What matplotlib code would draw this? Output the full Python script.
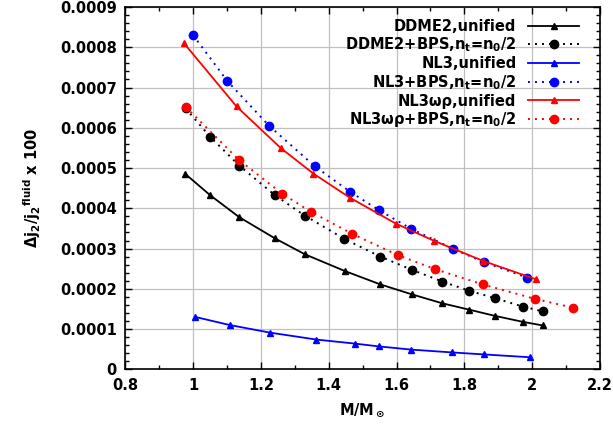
import matplotlib
matplotlib.use("Agg")
import matplotlib.pyplot as plt
from matplotlib.ticker import MultipleLocator, FuncFormatter

# masses (M/Msun) and delta j2 / j2_fluid x 100
ddme2_uni_m = [0.976, 1.051, 1.136, 1.242, 1.329, 1.448, 1.552, 1.646, 1.735, 1.815, 1.889, 1.972, 2.031]
ddme2_uni_d = [4.86e-4, 4.32e-4, 3.78e-4, 3.25e-4, 2.86e-4, 2.44e-4, 2.11e-4, 1.86e-4, 1.64e-4, 1.48e-4, 1.33e-4, 1.18e-4, 1.09e-4]

ddme2_bps_m = [0.978, 1.051, 1.136, 1.242, 1.329, 1.446, 1.552, 1.646, 1.735, 1.815, 1.889, 1.972, 2.031]
ddme2_bps_d = [6.48e-4, 5.77e-4, 5.06e-4, 4.32e-4, 3.82e-4, 3.24e-4, 2.80e-4, 2.47e-4, 2.18e-4, 1.95e-4, 1.77e-4, 1.56e-4, 1.44e-4]

nl3_uni_m = [1.007, 1.108, 1.228, 1.363, 1.476, 1.547, 1.643, 1.763, 1.858, 1.993]
nl3_uni_d = [1.30e-4, 1.10e-4, 0.91e-4, 0.74e-4, 0.64e-4, 0.57e-4, 0.49e-4, 0.42e-4, 0.37e-4, 0.30e-4]

nl3_bps_m = [1.000, 1.101, 1.224, 1.358, 1.463, 1.547, 1.643, 1.765, 1.858, 1.985]
nl3_bps_d = [8.30e-4, 7.16e-4, 6.05e-4, 5.05e-4, 4.41e-4, 3.96e-4, 3.49e-4, 3.00e-4, 2.66e-4, 2.28e-4]

nl3wr_uni_m = [0.973, 1.128, 1.258, 1.355, 1.463, 1.598, 1.711, 1.856, 2.010]
nl3wr_uni_d = [8.10e-4, 6.53e-4, 5.50e-4, 4.86e-4, 4.26e-4, 3.62e-4, 3.19e-4, 2.69e-4, 2.24e-4]

nl3wr_bps_m = [0.978, 1.134, 1.263, 1.348, 1.468, 1.603, 1.713, 1.854, 2.008, 2.121]
nl3wr_bps_d = [6.52e-4, 5.21e-4, 4.36e-4, 3.91e-4, 3.37e-4, 2.84e-4, 2.49e-4, 2.11e-4, 1.75e-4, 1.53e-4]

labels = ["DDME2,unified", "DDME2+BPS,n$_t$=n$_0$/2",
          "NL3,unified", "NL3+BPS,n$_t$=n$_0$/2",
          "NL3ωρ,unified", "NL3ωρ+BPS,n$_t$=n$_0$/2"]

plt.rcParams['font.family'] = ['DejaVu Sans']
plt.rcParams['font.weight'] = 'bold'
plt.rcParams['axes.labelweight'] = 'bold'
plt.rcParams['mathtext.default'] = 'bf'
plt.rcParams['font.size'] = 10.5

fig = plt.figure(figsize=(6.13, 4.25), dpi=100)
ax = fig.add_axes([0.2044, 0.131, 0.7744, 0.8525])

dot = (0, (1, 2.6))
ax.plot(ddme2_uni_m, ddme2_uni_d, color='black', lw=1.3, marker='^', ms=5, label=labels[0])
ax.plot(ddme2_bps_m, ddme2_bps_d, color='black', lw=1.4, ls=dot, marker='o', ms=6, label=labels[1])
ax.plot(nl3_uni_m, nl3_uni_d, color='blue', lw=1.3, marker='^', ms=5, label=labels[2])
ax.plot(nl3_bps_m, nl3_bps_d, color='blue', lw=1.4, ls=dot, marker='o', ms=6, label=labels[3])
ax.plot(nl3wr_uni_m, nl3wr_uni_d, color='red', lw=1.3, marker='^', ms=5, label=labels[4])
ax.plot(nl3wr_bps_m, nl3wr_bps_d, color='red', lw=1.4, ls=dot, marker='o', ms=6, label=labels[5])

ax.set_xlim(0.8, 2.2)
ax.set_ylim(0, 0.0009)
ax.xaxis.set_major_locator(MultipleLocator(0.2))
ax.xaxis.set_minor_locator(MultipleLocator(0.1))
ax.yaxis.set_major_locator(MultipleLocator(0.0001))
ax.yaxis.set_minor_locator(MultipleLocator(0.00002))
ax.xaxis.set_major_formatter(FuncFormatter(lambda v, p: f"{v:g}"))
ax.yaxis.set_major_formatter(FuncFormatter(lambda v, p: "0" if abs(v) < 1e-12 else f"{v:.4f}"))
ax.tick_params(which='both', direction='in', top=True, right=True, width=1)
ax.tick_params(which='major', length=5, pad=6)
ax.tick_params(which='minor', length=3)
for s in ax.spines.values():
    s.set_linewidth(1.2)
ax.grid(True, which='major', color='#c0c0c0', lw=0.9)
ax.set_axisbelow(True)

ax.set_xlabel(r"M/M$_\odot$", labelpad=6)
ax.set_ylabel(r"$\Delta$j$_2$/j$_2$$^{fluid}$ x 100", labelpad=12)

ax.legend(loc='upper right', bbox_to_anchor=(0.956, 0.968), frameon=False,
          markerfirst=False, borderpad=0, borderaxespad=0, handlelength=3.5,
          handletextpad=0.8, labelspacing=0.13)

fig.savefig("out.png", dpi=100)
